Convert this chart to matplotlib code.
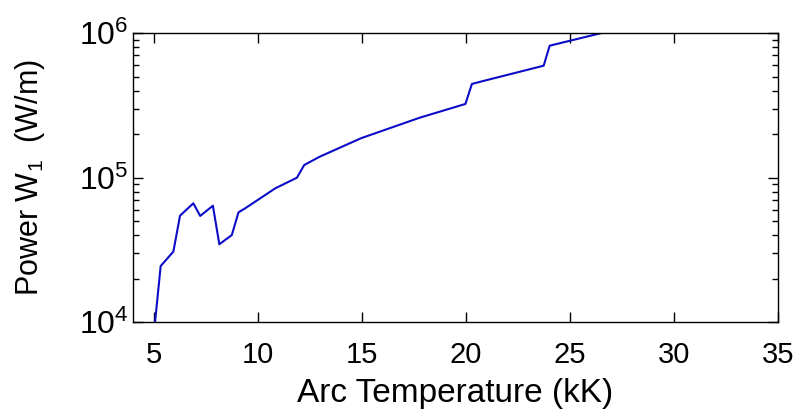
import matplotlib
matplotlib.use("Agg")
import matplotlib.pyplot as plt
from matplotlib.ticker import LogLocator, NullFormatter, FixedLocator

plt.rcParams['font.family'] = ['Liberation Sans', 'DejaVu Sans']
plt.rcParams['mathtext.fontset'] = 'custom'
plt.rcParams['mathtext.rm'] = 'Liberation Sans'
plt.rcParams['mathtext.it'] = 'Liberation Sans'

# Arc temperature (kK) and radiated power per unit length (W/m)
temperature_kK = [5.06, 5.33, 5.94, 6.26, 6.90, 7.23, 7.84, 8.15, 8.75, 9.07, 9.39,
                  10.84, 11.88, 12.23, 12.96, 14.96, 17.77, 19.98, 20.29, 20.82,
                  23.74, 24.03, 26.40, 28.00]
power_W_per_m = [1.0e4, 2.44e4, 3.07e4, 5.44e4, 6.63e4, 5.42e4, 6.38e4, 3.45e4, 4.0e4,
                 5.74e4, 6.12e4, 8.42e4, 9.97e4, 1.22e5, 1.39e5, 1.87e5, 2.59e5,
                 3.23e5, 4.44e5, 4.65e5, 5.94e5, 8.17e5, 9.9e5, 1.12e6]

x_ticks = [5, 10, 15, 20, 25, 30, 35]

fig = plt.figure(figsize=(8.12, 4.19), dpi=100)
ax = fig.add_axes([0.1638, 0.2315, 0.7942, 0.6897])

ax.plot(temperature_kK, power_W_per_m, color='#0c0cc8', linewidth=1.5)

ax.set_yscale('log')
ax.set_xlim(4, 35)
ax.set_ylim(1e4, 1e6)
ax.xaxis.set_major_locator(FixedLocator(x_ticks))
ax.yaxis.set_major_locator(LogLocator(base=10, numticks=10))
ax.yaxis.set_minor_locator(LogLocator(base=10, subs=range(2, 10), numticks=20))
ax.yaxis.set_minor_formatter(NullFormatter())

ax.tick_params(which='both', direction='in', top=True, right=True,
               width=1.0, color='black')
ax.tick_params(which='major', length=7)
ax.tick_params(which='minor', length=4)
ax.tick_params(axis='x', labelsize=21, pad=14)
ax.tick_params(axis='y', labelsize=23, pad=3)
for s in ax.spines.values():
    s.set_linewidth(1.0)

ax.set_xlabel('Arc Temperature (kK)', fontsize=24, labelpad=6)
ax.set_ylabel(r'Power W$_1$  (W/m)', fontsize=22, labelpad=23)

fig.savefig('out.png', dpi=100, facecolor='white')
